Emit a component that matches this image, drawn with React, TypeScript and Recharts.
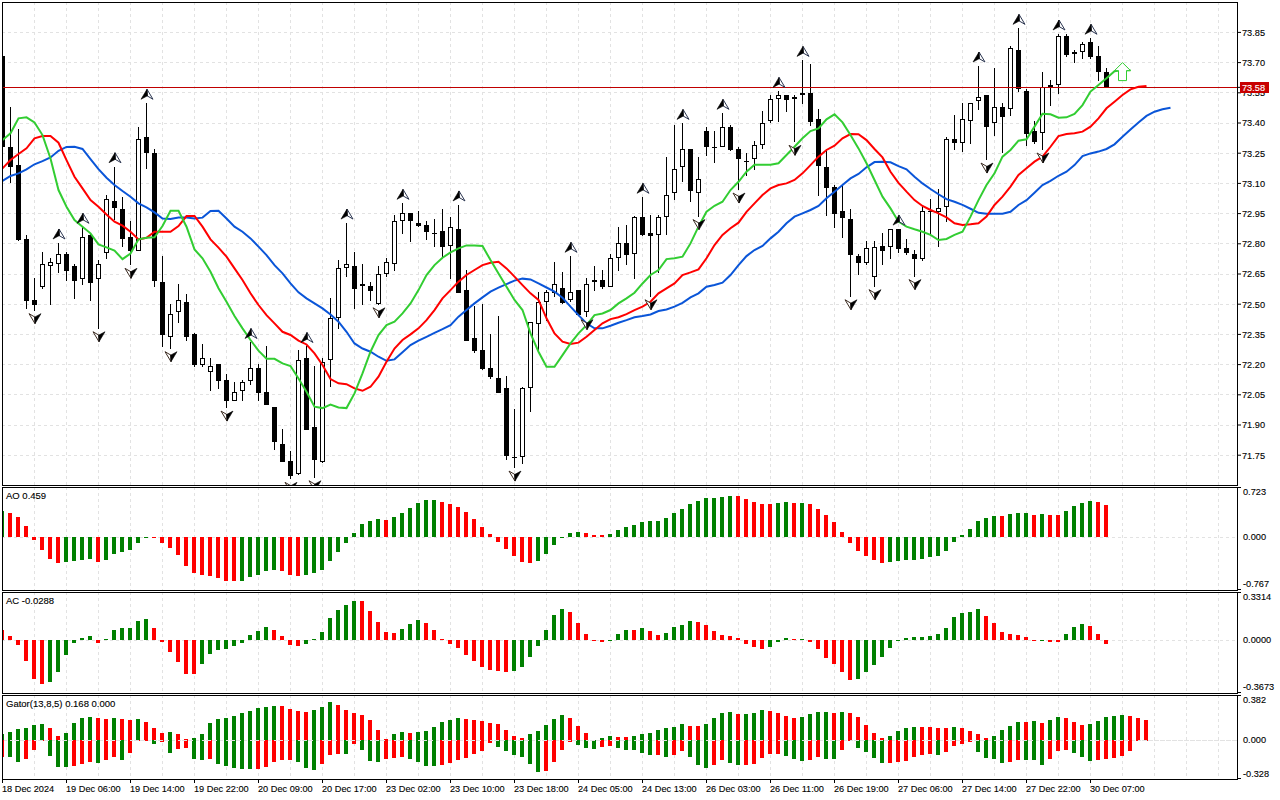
import { Bar, CartesianGrid, ComposedChart, Line, ReferenceLine, XAxis, YAxis } from "recharts";

const opens = [
  73.733, 73.279, 73.190, 72.822, 72.521, 72.587, 72.688, 72.698, 72.747, 72.688,
  72.627, 72.842, 72.627, 72.756, 73.011, 72.971, 72.832, 72.766, 73.329, 73.249,
  72.608, 72.338, 72.459, 72.509, 72.350, 72.199, 72.161, 72.201, 72.122, 72.020,
  72.070, 72.120, 72.181, 72.062, 71.987, 71.808, 71.719, 71.658, 72.231, 71.888,
  71.717, 72.221, 72.430, 72.678, 72.688, 72.588, 72.588, 72.499, 72.648, 72.698,
  72.911, 72.951, 72.902, 72.892, 72.852, 72.862, 72.787, 72.872, 72.569, 72.330,
  72.271, 72.181, 72.131, 72.082, 71.739, 71.739, 72.082, 72.400, 72.509, 72.554,
  72.579, 72.519, 72.569, 72.459, 72.608, 72.618, 72.587, 72.728, 72.802, 72.747,
  72.931, 72.852, 72.842, 72.931, 73.051, 73.180, 73.269, 73.051, 73.359, 73.281,
  73.279, 73.378, 73.269, 73.209, 73.219, 73.289, 73.408, 73.518, 73.537, 73.518,
  73.537, 73.547, 73.418, 73.180, 73.082, 72.961, 72.923, 72.739, 72.706, 72.637,
  72.787, 72.786, 72.872, 72.777, 72.747, 72.726, 72.961, 72.959, 72.981, 73.319,
  73.299, 73.408, 73.508, 73.537, 73.398, 73.478, 73.468, 73.761, 73.557, 73.359,
  73.349, 73.577, 73.587, 73.830, 73.741, 73.751, 73.801, 73.731, 73.652,
];
const closes = [
  73.279, 73.180, 72.819, 72.517, 72.497, 72.698, 72.708, 72.747, 72.666, 72.617,
  72.832, 72.607, 72.698, 73.021, 72.979, 72.822, 72.766, 73.319, 73.249, 72.617,
  72.348, 72.449, 72.519, 72.338, 72.199, 72.231, 72.191, 72.120, 72.020, 72.062,
  72.112, 72.181, 72.060, 72.001, 71.817, 71.717, 71.648, 72.221, 71.876, 71.727,
  72.211, 72.430, 72.678, 72.698, 72.577, 72.598, 72.567, 72.648, 72.708, 72.911,
  72.951, 72.911, 72.888, 72.860, 72.848, 72.786, 72.882, 72.557, 72.319, 72.269,
  72.179, 72.140, 72.060, 71.747, 71.736, 72.082, 72.410, 72.509, 72.559, 72.598,
  72.507, 72.559, 72.446, 72.598, 72.618, 72.587, 72.728, 72.802, 72.746, 72.931,
  72.842, 72.840, 72.931, 73.041, 73.170, 73.269, 73.060, 73.120, 73.279, 73.277,
  73.378, 73.267, 73.219, 73.206, 73.289, 73.398, 73.518, 73.537, 73.514, 73.527,
  73.547, 73.407, 73.188, 73.079, 72.949, 72.930, 72.744, 72.706, 72.777, 72.786,
  72.766, 72.872, 72.776, 72.754, 72.726, 72.961, 72.958, 72.979, 73.319, 73.299,
  73.418, 73.498, 73.527, 73.378, 73.478, 73.428, 73.771, 73.567, 73.345, 73.306,
  73.577, 73.587, 73.830, 73.739, 73.751, 73.791, 73.729, 73.652, 73.577,
];
const highs = [
  73.733, 73.478, 73.368, 72.844, 72.628, 72.757, 72.728, 72.804, 72.757, 72.698,
  72.882, 72.852, 72.718, 73.041, 73.183, 73.031, 72.911, 73.378, 73.498, 73.269,
  72.739, 72.501, 72.598, 72.549, 72.358, 72.300, 72.231, 72.201, 72.151, 72.112,
  72.122, 72.310, 72.201, 72.290, 71.987, 71.880, 71.769, 72.271, 72.290, 72.191,
  72.231, 72.529, 72.718, 72.903, 72.757, 72.698, 72.608, 72.688, 72.728, 72.943,
  73.001, 72.951, 72.963, 72.913, 72.923, 72.971, 72.931, 72.993, 72.668, 72.492,
  72.501, 72.352, 72.439, 72.141, 71.979, 72.090, 72.410, 72.559, 72.570, 72.709,
  72.658, 72.738, 72.570, 72.628, 72.689, 72.670, 72.747, 72.882, 72.892, 72.938,
  73.031, 72.941, 72.941, 73.229, 73.388, 73.398, 73.269, 73.229, 73.378, 73.359,
  73.448, 73.388, 73.279, 73.249, 73.309, 73.458, 73.537, 73.557, 73.537, 73.537,
  73.711, 73.693, 73.469, 73.271, 73.092, 73.092, 72.971, 72.749, 72.814, 72.814,
  72.853, 72.873, 72.873, 72.824, 72.767, 72.988, 73.021, 73.070, 73.329, 73.438,
  73.498, 73.498, 73.683, 73.537, 73.672, 73.498, 73.781, 73.870, 73.567, 73.408,
  73.653, 73.614, 73.842, 73.840, 73.763, 73.801, 73.821, 73.781, 73.672,
];
const lows = [
  73.279, 73.100, 72.815, 72.478, 72.468, 72.577, 72.497, 72.656, 72.617, 72.527,
  72.597, 72.517, 72.378, 72.726, 72.918, 72.786, 72.693, 72.766, 73.170, 72.587,
  72.289, 72.279, 72.408, 72.319, 72.189, 72.189, 72.070, 72.080, 71.984, 72.020,
  72.020, 72.100, 72.020, 72.001, 71.777, 71.717, 71.630, 71.651, 71.876, 71.638,
  71.709, 72.090, 72.378, 72.637, 72.478, 72.497, 72.517, 72.497, 72.637, 72.666,
  72.848, 72.810, 72.882, 72.819, 72.786, 72.736, 72.627, 72.557, 72.319, 72.259,
  72.173, 72.130, 72.060, 71.726, 71.686, 71.706, 71.964, 72.269, 72.418, 72.537,
  72.499, 72.509, 72.441, 72.438, 72.567, 72.577, 72.584, 72.666, 72.696, 72.627,
  72.839, 72.537, 72.653, 72.842, 73.017, 73.108, 73.009, 72.935, 73.238, 73.200,
  73.279, 73.259, 73.067, 73.137, 73.166, 73.269, 73.398, 73.405, 73.455, 73.304,
  73.496, 73.387, 73.039, 72.940, 72.880, 72.830, 72.537, 72.646, 72.696, 72.587,
  72.694, 72.724, 72.754, 72.744, 72.637, 72.716, 72.848, 72.786, 72.910, 73.266,
  73.256, 73.296, 73.465, 73.216, 73.335, 73.249, 73.435, 73.556, 73.287, 73.296,
  73.266, 73.484, 73.544, 73.729, 73.700, 73.720, 73.720, 73.609, 73.577,
];

// alligator lines, shifted forward so they run past the last candle
const lips = [
  73.315, 73.349, 73.423, 73.428, 73.403, 73.340, 73.224, 73.067, 72.984, 72.918,
  72.885, 72.852, 72.797, 72.782, 72.766, 72.724, 72.752, 72.822, 72.830, 72.832,
  72.888, 72.964, 72.964, 72.885, 72.772, 72.728, 72.661, 72.579, 72.512, 72.441,
  72.380, 72.322, 72.269, 72.229, 72.229, 72.206, 72.193, 72.131, 72.065, 71.991,
  71.984, 72.001, 71.987, 71.984, 72.057, 72.156, 72.264, 72.347, 72.396, 72.413,
  72.454, 72.504, 72.570, 72.645, 72.694, 72.731, 72.757, 72.777, 72.792, 72.792,
  72.789, 72.719, 72.653, 72.587, 72.521, 72.471, 72.355, 72.264, 72.189, 72.189,
  72.247, 72.305, 72.355, 72.396, 72.446, 72.454, 72.471, 72.504, 72.529, 72.557,
  72.603, 72.645, 72.670, 72.724, 72.728, 72.736, 72.802, 72.885, 72.959, 72.989,
  73.009, 73.067, 73.108, 73.158, 73.193, 73.193, 73.193, 73.200, 73.241, 73.282,
  73.324, 73.360, 73.373, 73.418, 73.443, 73.403, 73.340, 73.274, 73.200, 73.117,
  73.034, 72.976, 72.910, 72.885, 72.872, 72.860, 72.844, 72.819, 72.824, 72.844,
  72.860, 72.935, 73.017, 73.092, 73.150, 73.233, 73.266, 73.312, 73.319, 73.382,
  73.446, 73.443, 73.426, 73.428, 73.445, 73.489, 73.556, 73.589, 73.622, 73.657,
  73.663, 73.662,
];
const teeth = [
  73.175, 73.216, 73.246, 73.274, 73.324, 73.335, 73.335, 73.302, 73.216, 73.133,
  73.075, 73.017, 72.984, 72.946, 72.910, 72.890, 72.860, 72.822, 72.830, 72.860,
  72.860, 72.860, 72.888, 72.938, 72.938, 72.885, 72.822, 72.781, 72.736, 72.678,
  72.620, 72.554, 72.496, 72.446, 72.405, 72.363, 72.347, 72.319, 72.300, 72.256,
  72.198, 72.128, 72.107, 72.103, 72.082, 72.070, 72.090, 72.140, 72.214, 72.280,
  72.322, 72.350, 72.380, 72.421, 72.471, 72.529, 72.570, 72.612, 72.645, 72.670,
  72.694, 72.706, 72.711, 72.678, 72.637, 72.595, 72.554, 72.521, 72.430, 72.355,
  72.314, 72.302, 72.309, 72.338, 72.372, 72.405, 72.426, 72.435, 72.451, 72.471,
  72.488, 72.512, 72.554, 72.579, 72.603, 72.645, 72.658, 72.673, 72.728, 72.794,
  72.844, 72.877, 72.905, 72.959, 73.001, 73.042, 73.075, 73.092, 73.100, 73.117,
  73.150, 73.191, 73.233, 73.266, 73.287, 73.324, 73.345, 73.344, 73.315, 73.271,
  73.229, 73.158, 73.103, 73.059, 73.017, 72.988, 72.968, 72.951, 72.931, 72.902,
  72.893, 72.897, 72.902, 72.935, 72.993, 73.034, 73.084, 73.142, 73.175, 73.208,
  73.233, 73.282, 73.335, 73.345, 73.349, 73.357, 73.382, 73.423, 73.473, 73.506,
  73.539, 73.567, 73.580, 73.584,
];
const jaws = [
  73.112, 73.137, 73.150, 73.170, 73.195, 73.211, 73.229, 73.262, 73.281, 73.282,
  73.271, 73.221, 73.171, 73.128, 73.092, 73.062, 73.034, 73.001, 72.981, 72.956,
  72.926, 72.923, 72.931, 72.931, 72.926, 72.930, 72.963, 72.964, 72.926, 72.885,
  72.860, 72.827, 72.786, 72.744, 72.694, 72.653, 72.603, 72.559, 72.529, 72.504,
  72.479, 72.449, 72.413, 72.363, 72.305, 72.280, 72.264, 72.239, 72.219, 72.226,
  72.261, 72.297, 72.319, 72.338, 72.358, 72.376, 72.396, 72.438, 72.471, 72.504,
  72.534, 72.562, 72.582, 72.600, 72.617, 72.627, 72.623, 72.603, 72.583, 72.562,
  72.532, 72.488, 72.446, 72.405, 72.380, 72.380, 72.393, 72.408, 72.421, 72.435,
  72.441, 72.449, 72.466, 72.474, 72.488, 72.507, 72.534, 72.554, 72.587, 72.595,
  72.607, 72.645, 72.694, 72.739, 72.769, 72.789, 72.827, 72.860, 72.902, 72.935,
  72.951, 72.968, 72.988, 73.026, 73.059, 73.092, 73.125, 73.147, 73.180, 73.206,
  73.208, 73.205, 73.186, 73.170, 73.133, 73.100, 73.072, 73.046, 73.022, 73.009,
  72.993, 72.974, 72.954, 72.949, 72.949, 72.949, 72.959, 72.993, 73.017, 73.054,
  73.092, 73.113, 73.138, 73.158, 73.191, 73.236, 73.249, 73.258, 73.271, 73.294,
  73.332, 73.368, 73.403, 73.435, 73.456, 73.468, 73.476,
];

const fractalUp = [7, 10, 14, 18, 31, 38, 43, 50, 57, 71, 80, 85, 90, 97, 100, 112, 122, 127, 132, 136];
const fractalDown = [4, 12, 16, 21, 28, 36, 39, 47, 64, 73, 81, 87, 92, 99, 106, 109, 114, 123, 130];
const signalBar = 140;
const signalPrice = 73.70;
const lastPrice = 73.577;

const aoValues = [
  0.428, 0.395, 0.330, 0.184, -0.043, -0.206, -0.352, -0.417, -0.401, -0.385,
  -0.374, -0.352, -0.401, -0.368, -0.271, -0.238, -0.206, -0.092, 0.005, -0.005,
  -0.092, -0.173, -0.287, -0.466, -0.580, -0.612, -0.628, -0.661, -0.705, -0.712,
  -0.708, -0.645, -0.612, -0.547, -0.531, -0.547, -0.612, -0.628, -0.612, -0.580,
  -0.531, -0.385, -0.238, -0.092, 0.070, 0.217, 0.265, 0.298, 0.282, 0.330,
  0.395, 0.477, 0.558, 0.607, 0.612, 0.574, 0.542, 0.493, 0.412, 0.298,
  0.168, 0.054, -0.076, -0.190, -0.303, -0.401, -0.417, -0.385, -0.271, -0.125,
  0.010, 0.070, 0.087, 0.070, 0.038, 0.038, 0.054, 0.119, 0.168, 0.200,
  0.249, 0.265, 0.268, 0.314, 0.395, 0.460, 0.542, 0.590, 0.639, 0.641,
  0.655, 0.672, 0.672, 0.623, 0.574, 0.542, 0.542, 0.558, 0.574, 0.556,
  0.560, 0.542, 0.460, 0.363, 0.249, 0.087, -0.092, -0.222, -0.303, -0.368,
  -0.417, -0.401, -0.385, -0.368, -0.366, -0.352, -0.320, -0.303, -0.222, -0.076,
  0.038, 0.135, 0.265, 0.314, 0.347, 0.347, 0.379, 0.395, 0.397, 0.363,
  0.379, 0.363, 0.363, 0.428, 0.509, 0.558, 0.590, 0.574, 0.525,
];
const acValues = [
  0.081, 0.034, -0.036, -0.161, -0.302, -0.341, -0.326, -0.247, -0.115, -0.021,
  0.018, 0.034, -0.021, 0.010, 0.081, 0.096, 0.098, 0.151, 0.167, 0.096,
  -0.013, -0.091, -0.169, -0.263, -0.263, -0.185, -0.107, -0.076, -0.068, -0.044,
  -0.021, 0.042, 0.073, 0.104, 0.081, 0.034, -0.036, -0.044, -0.029, 0.010,
  0.065, 0.174, 0.237, 0.276, 0.307, 0.307, 0.229, 0.143, 0.065, 0.057,
  0.089, 0.128, 0.159, 0.135, 0.081, 0.010, -0.029, -0.060, -0.115, -0.161,
  -0.208, -0.232, -0.240, -0.247, -0.240, -0.208, -0.130, -0.044, 0.081, 0.198,
  0.245, 0.221, 0.135, 0.049, 0.003, -0.013, -0.003, 0.049, 0.081, 0.081,
  0.096, 0.073, 0.042, 0.057, 0.104, 0.120, 0.151, 0.143, 0.120, 0.073,
  0.042, 0.034, 0.018, -0.029, -0.052, -0.068, -0.052, -0.013, 0.018, 0.009,
  0.011, -0.013, -0.068, -0.138, -0.185, -0.247, -0.310, -0.302, -0.247, -0.193,
  -0.130, -0.060, 0.003, 0.018, 0.026, 0.027, 0.034, 0.049, 0.096, 0.182,
  0.214, 0.221, 0.245, 0.190, 0.135, 0.065, 0.049, 0.042, 0.026, -0.005,
  0.003, -0.013, -0.013, 0.049, 0.104, 0.128, 0.112, 0.049, -0.029,
];
const gatorUp = [
  0.061, 0.081, 0.110, 0.119, 0.148, 0.158, 0.119, 0.042, 0.071, 0.168,
  0.216, 0.226, 0.216, 0.206, 0.216, 0.206, 0.197, 0.206, 0.177, 0.119,
  0.071, 0.081, 0.061, 0.013, 0.023, 0.061, 0.168, 0.206, 0.216, 0.235,
  0.265, 0.284, 0.313, 0.323, 0.332, 0.332, 0.303, 0.284, 0.274, 0.294,
  0.323, 0.371, 0.342, 0.294, 0.265, 0.245, 0.197, 0.100, 0.013, 0.061,
  0.081, 0.071, 0.081, 0.090, 0.129, 0.177, 0.197, 0.216, 0.206, 0.197,
  0.187, 0.168, 0.158, 0.100, 0.042, 0.023, 0.061, 0.090, 0.148, 0.206,
  0.245, 0.216, 0.139, 0.071, 0.000, 0.023, 0.042, 0.032, 0.032, 0.042,
  0.061, 0.071, 0.100, 0.119, 0.129, 0.158, 0.139, 0.139, 0.158, 0.216,
  0.265, 0.274, 0.255, 0.255, 0.265, 0.294, 0.284, 0.265, 0.235, 0.216,
  0.226, 0.255, 0.274, 0.274, 0.265, 0.274, 0.265, 0.226, 0.148, 0.071,
  0.023, 0.042, 0.090, 0.119, 0.129, 0.129, 0.129, 0.119, 0.119, 0.129,
  0.119, 0.090, 0.061, 0.023, 0.042, 0.100, 0.139, 0.177, 0.177, 0.187,
  0.168, 0.197, 0.226, 0.216, 0.177, 0.148, 0.158, 0.187, 0.226, 0.235,
  0.245, 0.235, 0.216, 0.197,
];
const gatorDown = [
  -0.161, -0.161, -0.210, -0.181, -0.094, -0.006, -0.152, -0.258, -0.258, -0.248,
  -0.229, -0.210, -0.219, -0.190, -0.161, -0.190, -0.123, -0.006, -0.006, -0.035,
  -0.016, -0.123, -0.084, -0.074, -0.181, -0.190, -0.181, -0.229, -0.248, -0.268,
  -0.277, -0.277, -0.277, -0.258, -0.210, -0.190, -0.190, -0.210, -0.268, -0.287,
  -0.229, -0.142, -0.132, -0.132, -0.035, -0.094, -0.200, -0.210, -0.181, -0.171,
  -0.161, -0.181, -0.210, -0.248, -0.248, -0.239, -0.219, -0.190, -0.171, -0.132,
  -0.103, -0.026, -0.065, -0.103, -0.142, -0.161, -0.229, -0.306, -0.297, -0.210,
  -0.094, -0.016, -0.045, -0.074, -0.084, -0.065, -0.055, -0.074, -0.094, -0.094,
  -0.123, -0.142, -0.142, -0.161, -0.142, -0.103, -0.161, -0.239, -0.268, -0.239,
  -0.190, -0.219, -0.239, -0.239, -0.229, -0.171, -0.132, -0.132, -0.152, -0.181,
  -0.200, -0.190, -0.161, -0.181, -0.181, -0.094, -0.006, -0.074, -0.113, -0.171,
  -0.219, -0.219, -0.210, -0.200, -0.161, -0.142, -0.132, -0.142, -0.113, -0.055,
  -0.035, -0.016, -0.113, -0.171, -0.181, -0.219, -0.210, -0.190, -0.190, -0.190,
  -0.239, -0.181, -0.103, -0.094, -0.123, -0.161, -0.200, -0.190, -0.181, -0.171,
  -0.152, -0.103, -0.006, -0.006,
];
// g = rising bar, r = falling bar, one letter per bar
const gatorUpColors =
  "gggggg rr gggg rr g rr g rrr g rr gg ggggggggg rrrr ggg rrrrrrr gg r gg gggg rrrrrrrr ggggg rrrr gg rr ggggggg rr gggg r ggg rrrr gggg r g rrrrr gggg rrrr g rrrr gggg r g r gg rrr ggggg rrr".replace(/ /g, "");
const gatorDownColors =
  "r gg rrr ggg rrr g rr g rrr g r g rr gg r ggggg rrrrr ggg rrr g r ggg rrr gggg rrrrrrr gggggg rrrr ggg rr ggggg r g rr ggg rr gg rrrrr ggg rr gg rr gggg rrrrrr g rrrr gggg rr ggg rrr ggg rrrrrrr".replace(/ /g, "");

const priceTicks = [73.85, 73.70, 73.55, 73.40, 73.25, 73.10, 72.95, 72.80, 72.65, 72.50, 72.35, 72.20, 72.05, 71.90, 71.75, lastPrice];
const gridPrices = [73.85, 73.70, 73.55, 73.40, 73.25, 73.10, 72.95, 72.80, 72.65, 72.50, 72.35, 72.20, 72.05, 71.90, 71.75];
const aoTicks = [0.723, 0, -0.767];
const acTicks = [0.3314, 0, -0.3673];
const gatorTicks = [0.382, 0, -0.328];
const timeLabels = [
  "18 Dec 2024", "19 Dec 06:00", "19 Dec 14:00", "19 Dec 22:00", "20 Dec 09:00", "20 Dec 17:00",
  "23 Dec 02:00", "23 Dec 10:00", "23 Dec 18:00", "24 Dec 05:00", "24 Dec 13:00", "26 Dec 03:00",
  "26 Dec 11:00", "26 Dec 19:00", "27 Dec 06:00", "27 Dec 14:00", "27 Dec 22:00", "30 Dec 07:00",
];

const FONT = "'Liberation Sans', Arial, sans-serif";
const FONT_SIZE = 9.2;
const TEXT_STROKE = 0.12;
const GREEN_BAR = "#008000";
const RED_BAR = "#ff0000";
const GRID = "#e2e2e2";
const X_DOMAIN: [number, number] = [-0.0625, 154.3125];
const gridBars = Array.from({ length: 39 }, (_, k) => k * 4);
const labelBars = timeLabels.map((_, k) => k * 8);

const candleRows = Array.from({ length: 147 }, (_, i) => ({
  idx: i,
  range: i < opens.length ? [lows[i], highs[i]] : undefined,
  open: opens[i],
  close: closes[i],
  high: highs[i],
  low: lows[i],
  lips: lips[i],
  teeth: teeth[i],
  jaws: jaws[i],
  up: fractalUp.includes(i) ? highs[i] : undefined,
  down: fractalDown.includes(i) ? lows[i] : undefined,
  signal: i === signalBar ? signalPrice : undefined,
}));

function oscRows(values: number[], firstColor: string) {
  return values.map((v, i) => ({
    idx: i,
    value: v,
    color: i === 0 ? firstColor : v > values[i - 1] ? GREEN_BAR : RED_BAR,
  }));
}
const aoRows = oscRows(aoValues, GREEN_BAR);
const acRows = oscRows(acValues, RED_BAR);
const gatorRows = gatorUp.map((v, i) => ({
  idx: i,
  upper: v,
  lower: gatorDown[i],
  upColor: gatorUpColors[i] === "g" ? GREEN_BAR : RED_BAR,
  downColor: gatorDownColors[i] === "g" ? GREEN_BAR : RED_BAR,
}));

function Candle(props: any) {
  const { x, y, width, height, payload } = props;
  if (!payload || payload.open === undefined || !Number.isFinite(y)) return <g />;
  const cx = Math.floor(x + width / 2 + 0.01);
  const perPrice = height / (payload.high - payload.low);
  const top = y + (payload.high - Math.max(payload.open, payload.close)) * perPrice;
  const bottom = y + (payload.high - Math.min(payload.open, payload.close)) * perPrice;
  const t = Math.round(top);
  const b = Math.max(Math.round(bottom), t + 1);
  const bull = payload.close > payload.open;
  return (
    <g shapeRendering="crispEdges">
      <rect x={cx} y={y} width={1} height={height} fill="#000" />
      {bull ? (
        <rect x={cx - 1.5} y={t + 0.5} width={4} height={Math.max(b - t - 1, 1)} fill="#fff" stroke="#000" />
      ) : (
        <rect x={cx - 2} y={t} width={5} height={b - t} fill="#000" />
      )}
    </g>
  );
}

function makeOscBar(colorKey: string) {
  return function OscBar(props: any) {
    const { x, y, width, height, payload } = props;
    if (!Number.isFinite(y) || !Number.isFinite(height)) return <g />;
    const cx = Math.floor(x + width / 2 + 0.01);
    const top = Math.round(Math.min(y, y + height));
    const bottom = Math.round(Math.max(y, y + height));
    return (
      <rect x={cx - 2} y={top} width={4} height={Math.max(bottom - top, 1)} fill={payload[colorKey]} shapeRendering="crispEdges" />
    );
  };
}

function FractalUp(props: any) {
  const { cx, cy, key } = props;
  if (cy === null || cy === undefined || !Number.isFinite(cy)) return <g key={key} />;
  const b = cy - 4;
  return (
    <g key={key}>
      <path d={`M${cx + 0.5} ${b - 10} L${cx + 6.5} ${b} L${cx + 0.5} ${b - 3.5} Z`} fill="#fff" stroke="#2b3550" strokeWidth={1} />
      <path d={`M${cx + 0.5} ${b - 10} L${cx - 5.5} ${b} L${cx + 1} ${b - 3.5} Z`} fill="#000" stroke="#000" strokeWidth={0.6} />
    </g>
  );
}

function FractalDown(props: any) {
  const { cx, cy, key } = props;
  if (cy === null || cy === undefined || !Number.isFinite(cy)) return <g key={key} />;
  const t = cy + 3;
  return (
    <g key={key}>
      <path d={`M${cx + 0.5} ${t + 10} L${cx - 5.5} ${t} L${cx + 0.5} ${t + 3.5} Z`} fill="#fff" stroke="#3a2a20" strokeWidth={1} />
      <path d={`M${cx + 0.5} ${t + 10} L${cx + 6.5} ${t} L${cx} ${t + 3.5} Z`} fill="#000" stroke="#000" strokeWidth={0.6} />
    </g>
  );
}

function SignalArrow(props: any) {
  const { cx, cy, key } = props;
  if (cy === null || cy === undefined || !Number.isFinite(cy)) return <g key={key} />;
  const c = cx;
  const d = `M${c} ${cy} L${c + 8} ${cy + 8} L${c + 4} ${cy + 8} L${c + 4} ${cy + 18} L${c - 4} ${cy + 18} L${c - 4} ${cy + 8} L${c - 8} ${cy + 8} Z`;
  return <path key={key} d={d} fill="#fff" stroke="#32cd32" strokeWidth={1} />;
}

function AxisText({ x, y, fill = "#000", children }: any) {
  return (
    <text x={x} y={y} fontFamily={FONT} fontSize={FONT_SIZE} fill={fill} stroke={fill} strokeWidth={TEXT_STROKE}>
      {children}
    </text>
  );
}

function PriceTick(props: any) {
  const { x, y, payload } = props;
  const v = payload.value;
  if (v === lastPrice) {
    return (
      <g>
        <rect x={x - 2} y={y - 5} width={29} height={11} fill="#c80000" shapeRendering="crispEdges" />
        <AxisText x={x} y={y + 3.5} fill="#fff">{v.toFixed(2)}</AxisText>
      </g>
    );
  }
  return <AxisText x={x} y={y + 3.3}>{v.toFixed(2)}</AxisText>;
}

function makeOscTick(digits: number) {
  return function OscTick(props: any) {
    const { x, y, payload } = props;
    return <AxisText x={x} y={y + 2.6}>{payload.value.toFixed(digits)}</AxisText>;
  };
}

function TimeTick(props: any) {
  const { x, y, index } = props;
  return <AxisText x={x - 0.5} y={y + 7.5}>{timeLabels[index]}</AxisText>;
}

function Frame({ top, bottom, ticks }: { top: number; bottom: number; ticks?: boolean }) {
  return (
    <>
      <div style={{ position: "absolute", left: 2, top, width: 1236, height: bottom - top + 1, border: "1px solid #000", boxSizing: "border-box", pointerEvents: "none" }} />
      {ticks && <div style={{ position: "absolute", left: 1237, top, width: 4, height: 1, background: "#000" }} />}
      {ticks && <div style={{ position: "absolute", left: 1237, top: bottom - 1, width: 4, height: 1, background: "#000" }} />}
    </>
  );
}

function PaneTitle({ top, children }: { top: number; children: string }) {
  return (
    <div style={{ position: "absolute", left: 6, top, font: `${FONT_SIZE + 0.3}px ${FONT}`, color: "#000", whiteSpace: "nowrap", lineHeight: "12px", WebkitTextStroke: `${TEXT_STROKE}px #000` }}>
      {children}
    </div>
  );
}

function OscPane({ top, bottom, rows, domain, ticks, digits }: any) {
  return (
    <div style={{ position: "absolute", left: 0, top }}>
      <ComposedChart width={1280} height={bottom - top} data={rows} margin={{ top: 0, right: 0, bottom: 0, left: 2 }}>
        <CartesianGrid stroke={GRID} strokeDasharray="3 3" horizontalValues={[0]} verticalValues={gridBars} shapeRendering="crispEdges" />
        <XAxis dataKey="idx" type="number" domain={X_DOMAIN} allowDataOverflow hide />
        <YAxis orientation="right" width={43} domain={domain} allowDataOverflow ticks={ticks} interval={0} axisLine={false} tickLine={false} tickSize={4} tickMargin={2} tick={makeOscTick(digits)} />
        <Bar dataKey="value" barSize={4} shape={makeOscBar("color")} isAnimationActive={false} />
      </ComposedChart>
    </div>
  );
}

export default function App() {
  return (
    <div style={{ position: "absolute", left: 0, top: 0, width: 1280, height: 800, background: "#fff", overflow: "hidden" }}>
      <div style={{ position: "absolute", left: 0, top: 2 }}>
        <ComposedChart width={1280} height={483} data={candleRows} margin={{ top: 0, right: 0, bottom: 0, left: 2 }}>
          <CartesianGrid stroke={GRID} strokeDasharray="3 3" horizontalValues={gridPrices} verticalValues={gridBars} shapeRendering="crispEdges" />
          <XAxis dataKey="idx" type="number" domain={X_DOMAIN} allowDataOverflow hide />
          <YAxis orientation="right" width={43} domain={[71.602, 74.001]} allowDataOverflow ticks={priceTicks} interval={0} axisLine={false} tickSize={4} tickMargin={1} tickLine={{ stroke: "#000" }} tick={PriceTick} />
          <Bar dataKey="range" barSize={5} shape={Candle} isAnimationActive={false} />
          <ReferenceLine y={lastPrice} stroke="#c00000" strokeWidth={1} shapeRendering="crispEdges" />
          <Line dataKey="jaws" stroke="#0a55d8" strokeWidth={2} dot={false} isAnimationActive={false} />
          <Line dataKey="teeth" stroke="#ff0000" strokeWidth={2} dot={false} isAnimationActive={false} />
          <Line dataKey="signal" stroke="none" dot={SignalArrow} isAnimationActive={false} />
          <Line dataKey="lips" stroke="#32cd32" strokeWidth={2} dot={false} isAnimationActive={false} />
          <Line dataKey="up" stroke="none" dot={FractalUp} isAnimationActive={false} />
          <Line dataKey="down" stroke="none" dot={FractalDown} isAnimationActive={false} />
        </ComposedChart>
      </div>

      <OscPane top={487} bottom={590} rows={aoRows} domain={[-0.857, 0.818]} ticks={aoTicks} digits={3} />
      <OscPane top={592} bottom={693} rows={acRows} domain={[-0.4117, 0.377]} ticks={acTicks} digits={4} />

      <div style={{ position: "absolute", left: 0, top: 695 }}>
        <ComposedChart width={1280} height={105} data={gatorRows} stackOffset="sign" margin={{ top: 0, right: 0, bottom: 0, left: 2 }}>
          <CartesianGrid stroke={GRID} strokeDasharray="3 3" horizontalValues={[0]} verticalValues={gridBars} shapeRendering="crispEdges" />
          <XAxis dataKey="idx" type="number" domain={X_DOMAIN} allowDataOverflow ticks={labelBars} interval={0} height={21} axisLine={false} tickSize={4} tickMargin={1} tickLine={{ stroke: "#000" }} tick={TimeTick} />
          <YAxis orientation="right" width={43} domain={[-0.3746, 0.4385]} allowDataOverflow ticks={gatorTicks} interval={0} axisLine={false} tickLine={false} tickSize={4} tickMargin={2} tick={makeOscTick(3)} />
          <Bar dataKey="upper" stackId="g" barSize={4} shape={makeOscBar("upColor")} isAnimationActive={false} />
          <Bar dataKey="lower" stackId="g" barSize={4} shape={makeOscBar("downColor")} isAnimationActive={false} />
          <ReferenceLine y={0} stroke={GRID} strokeDasharray="3 3" shapeRendering="crispEdges" />
        </ComposedChart>
      </div>

      <Frame top={2} bottom={485} />
      <Frame top={487} bottom={590} ticks />
      <Frame top={592} bottom={693} ticks />
      <Frame top={695} bottom={779} ticks />
      <PaneTitle top={490}>AO 0.459</PaneTitle>
      <PaneTitle top={595}>AC -0.0288</PaneTitle>
      <PaneTitle top={698}>Gator(13,8,5) 0.168 0.000</PaneTitle>
    </div>
  );
}
